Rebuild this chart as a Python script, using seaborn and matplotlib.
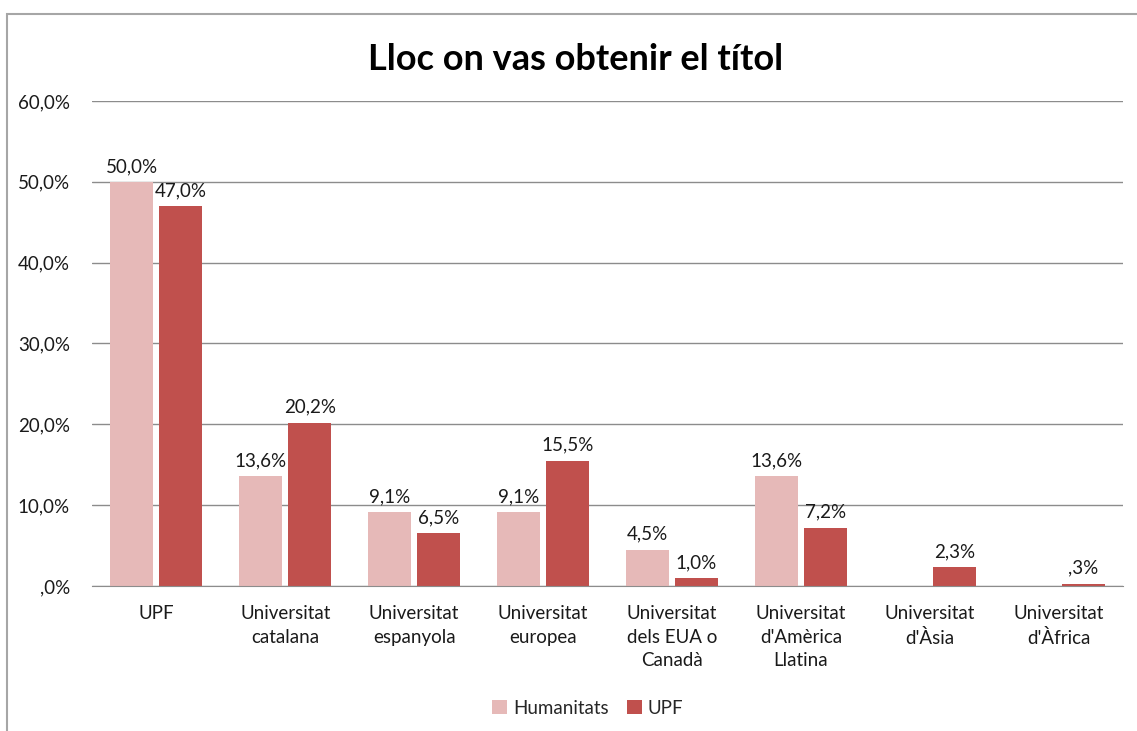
import pandas as pd
import numpy as np
import matplotlib.pyplot as plt
import seaborn as sns
from matplotlib.patches import Rectangle

sns.set_style('white')
plt.rcParams['font.family'] = ['Lato', 'DejaVu Sans']

categories = ['UPF', 'Universitat\ncatalana', 'Universitat\nespanyola', 'Universitat\neuropea',
              'Universitat\ndels EUA o\nCanadà', "Universitat\nd'Amèrica\nLlatina",
              "Universitat\nd'Àsia", "Universitat\nd'Àfrica"]
humanitats = [50.0, 13.6, 9.1, 9.1, 4.5, 13.6, 0.0, 0.0]
upf = [47.0, 20.2, 6.5, 15.5, 1.0, 7.2, 2.3, 0.3]
series = ['Humanitats', 'UPF']
colors = ['#E6B9B8', '#C0504D']
yticks = [0, 10, 20, 30, 40, 50, 60]


def fmt(v):
    s = f'{v:.1f}'.replace('.', ',')
    if s.startswith('0'):
        s = s[1:]
    return s + '%'


df = pd.DataFrame({
    'Categoria': categories * 2,
    'Valor': humanitats + upf,
    'Serie': ['Humanitats'] * len(categories) + ['UPF'] * len(categories),
})

fig = plt.figure(figsize=(11.37, 7.31), dpi=100)
ax = fig.add_axes([0.0809, 0.1984, 0.9068, 0.6634])
sns.barplot(data=df, x='Categoria', y='Valor', hue='Serie', palette=colors,
            saturation=1, linewidth=0, width=0.76, gap=0.12, ax=ax, legend=True)

ax.set_ylim(0, 60)
ax.set_xlim(-0.5, len(categories) - 0.5)
ax.set_yticks(yticks)
ax.set_yticklabels([fmt(t) for t in yticks], fontsize=13.5, color='#1a1a1a')
ax.yaxis.grid(True, color='#8c8c8c', linewidth=1)
ax.set_axisbelow(True)
ax.tick_params(axis='y', length=0, pad=16)
ax.tick_params(axis='x', length=0, pad=14, labelsize=13.5, labelcolor='#1a1a1a')
for lbl in ax.get_xticklabels():
    lbl.set_linespacing(1.45)
for s in ['left', 'right', 'top']:
    ax.spines[s].set_visible(False)
ax.spines['bottom'].set_color('#8c8c8c')
ax.set_xlabel('')
ax.set_ylabel('')

for cont in ax.containers:
    labels = [fmt(v) if v > 0 else '' for v in cont.datavalues]
    ax.bar_label(cont, labels=labels, padding=5, fontsize=13.5, color='#1a1a1a')

fig.text(576 / 1137, 1 - 60 / 731, 'Lloc on vas obtenir el títol', fontsize=26,
         fontweight='bold', color='black', ha='center', va='center')

handles, labs = ax.get_legend_handles_labels()
ax.legend(handles, labs, loc='upper center', bbox_to_anchor=(0.481, -0.2), ncol=2,
          frameon=False, fontsize=13.5, handlelength=0.8, handleheight=0.8,
          handletextpad=0.3, columnspacing=1.0)

fig.patches.append(Rectangle((7 / 1137, -0.1), 1.2, 1.1 - 14 / 731, transform=fig.transFigure,
                             fill=False, edgecolor='#a6a6a6', linewidth=1.5))

plt.savefig('out.png', dpi=100)
